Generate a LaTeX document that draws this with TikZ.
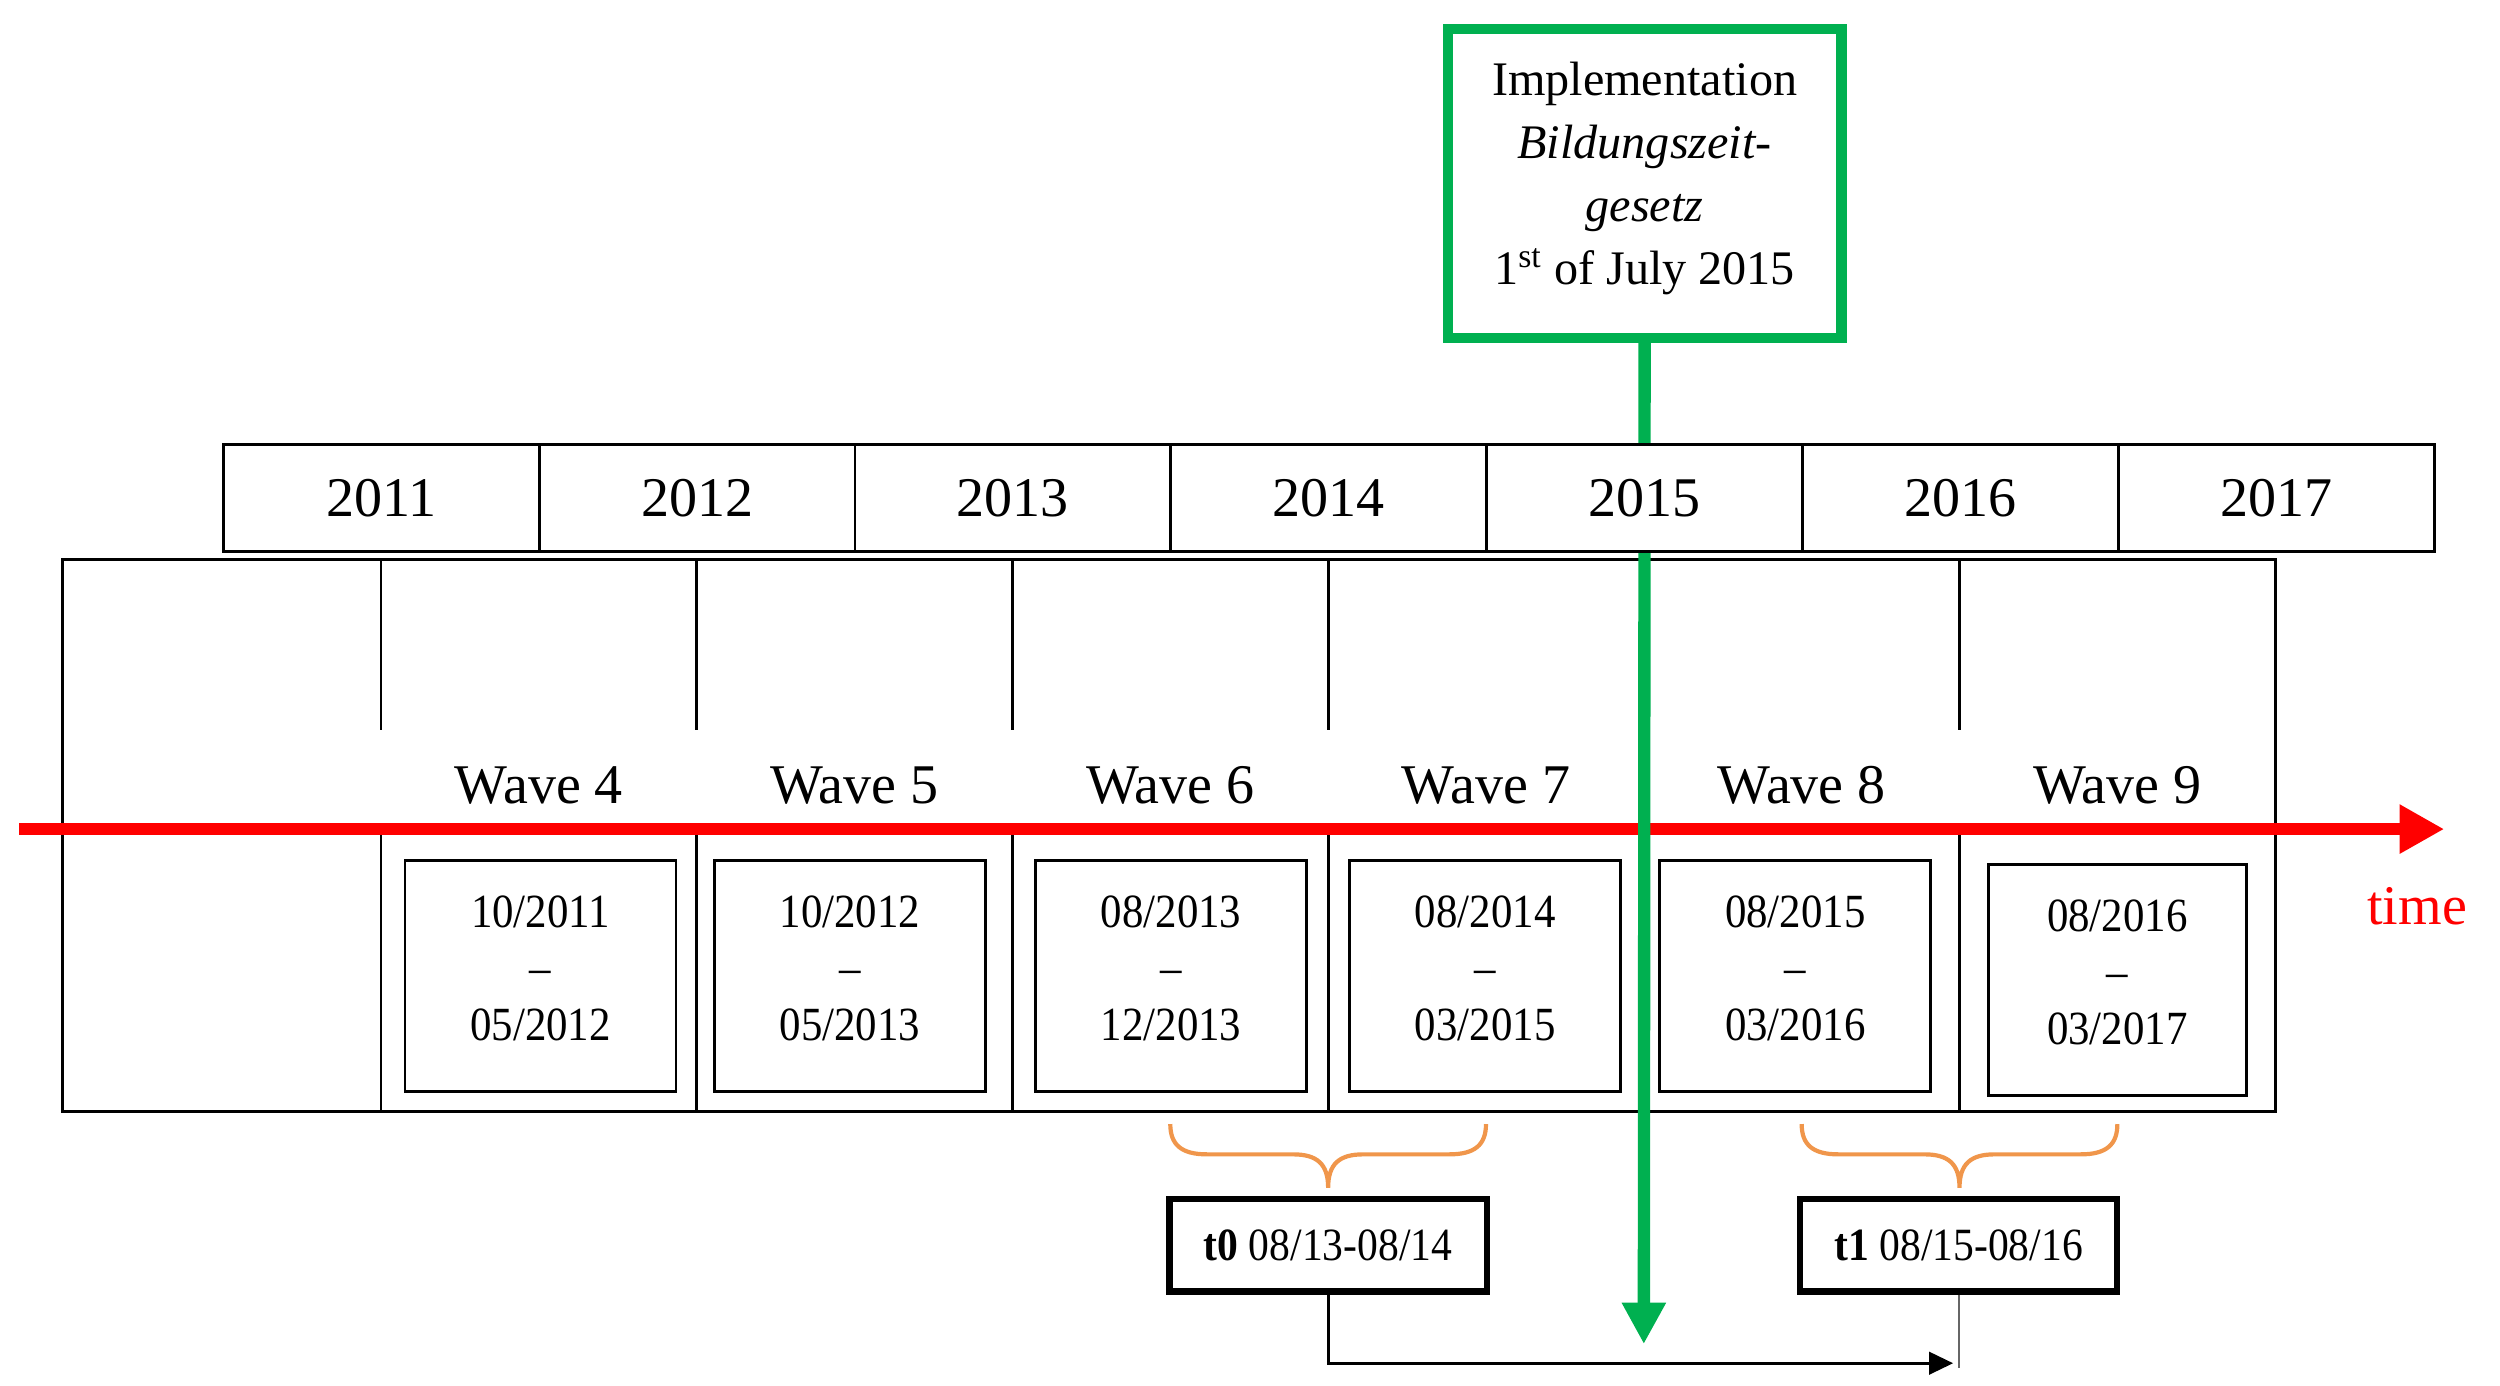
\documentclass[tikz,border=0pt]{standalone}
\usepackage{fontspec}
\setmainfont{Liberation Serif}
\newfontfamily\condfont[FakeStretch=0.9]{Liberation Serif}
\usetikzlibrary{arrows.meta}
\definecolor{impgreen}{RGB}{0,176,80}
\definecolor{bracecol}{RGB}{240,150,75}
\definecolor{timered}{RGB}{255,0,0}
\begin{document}
\begin{tikzpicture}[x=0.02cm,y=-0.02cm,
  gridline/.style={line width=1pt, black},
  yearbox/.style={draw, line width=1pt, fill=white, minimum width=3.962cm, minimum height=1.34cm, inner sep=0pt, outer sep=0pt, font=\fontsize{20}{24}\selectfont},
  wavelabel/.style={anchor=base, inner sep=0pt, font=\fontsize{20}{24}\selectfont},
  datebox/.style={draw, line width=1pt, minimum width=3.4cm, minimum height=2.9cm, inner sep=0pt, align=center, text depth=0.2cm, font=\condfont\fontsize{17}{20.2}\selectfont},
  tbox/.style={draw, line width=2.2pt, minimum width=3.98cm, minimum height=1.16cm, inner sep=0pt, font=\condfont\fontsize{16.5}{20}\selectfont},
  impbox/.style={draw=impgreen, line width=3.6pt, fill=white, minimum width=4.94cm, minimum height=3.88cm, inner sep=0pt, align=center, text depth=7pt, font=\fontsize{17.2}{22.5}\selectfont},
  greenarrow/.style={draw=impgreen, line width=4.4pt, -{Triangle[length=0.52cm,width=0.52cm]}},
  redarrow/.style={draw=timered, line width=4.2pt, -{Triangle[length=0.56cm,width=0.58cm]}},
  bracestyle/.style={draw=bracecol, line width=1.5pt},
  connarrow/.style={draw=black, line width=1pt, -{Triangle[length=0.3cm,width=0.28cm]}},
  thingray/.style={draw=black!60, line width=0.8pt},
  curly/.pic={
    \draw[bracestyle] (-99,0) .. controls (-99,13) and (-92,19) .. (-76,19) -- (-22,19)
      .. controls (-7,19) and (0,25) .. (0,40)
      .. controls (0,25) and (7,19) .. (22,19) -- (76,19)
      .. controls (92,19) and (99,13) .. (99,0);
  }
]
\useasboundingbox (0,0) rectangle (1568,869);

% main grid
\draw[gridline] (39,351) rectangle (1427,697);
\foreach \xx in {239,437,635,833,1031,1229}{
  \draw[gridline] (\xx,351) -- (\xx,458);
  \draw[gridline] (\xx,520) -- (\xx,697);
}

% wave labels
\node[wavelabel] (w4) at (338,504) {Wave 4};
\node[wavelabel] (w5) at (536,504) {Wave 5};
\node[wavelabel] (w6) at (734,504) {Wave 6};
\node[wavelabel] (w7) at (932,504) {Wave 7};
\node[wavelabel] (w8) at (1130,504) {Wave 8};
\node[wavelabel] (w9) at (1328,504) {Wave 9};

% date boxes
\node[datebox] (d4) at (339,612) {10/2011\\–\\05/2012};
\node[datebox] (d5) at (533,612) {10/2012\\–\\05/2013};
\node[datebox] (d6) at (734.5,612) {08/2013\\–\\12/2013};
\node[datebox] (d7) at (931.5,612) {08/2014\\–\\03/2015};
\node[datebox] (d8) at (1126,612) {08/2015\\–\\03/2016};
\node[datebox, minimum width=3.24cm] (d9) at (1328,614.5) {08/2016\\–\\03/2017};

% time axis
\coordinate (rs) at (12,520);
\coordinate (re) at (1533,520);
\draw[redarrow] (rs) -- (re);
\node[anchor=base, inner sep=0pt, text=timered, font=\fontsize{20}{24}\selectfont] (time) at (1516,580) {time};

% implementation box and green arrow
\node[impbox] (impl) at (1031.5,115) {Implementation\\\textit{Bildungszeit-}\\\textit{gesetz}\\1\textsuperscript{st} of July 2015};
\coordinate (gtip) at (1031,843);
\draw[greenarrow] (impl.south) -- (gtip);

% year boxes
\node[yearbox] (y2011) at (239.1,312.5) {2011};
\node[yearbox] (y2012) at (437.2,312.5) {2012};
\node[yearbox] (y2013) at (635.3,312.5) {2013};
\node[yearbox] (y2014) at (833.4,312.5) {2014};
\node[yearbox] (y2015) at (1031.5,312.5) {2015};
\node[yearbox] (y2016) at (1229.6,312.5) {2016};
\node[yearbox] (y2017) at (1427.7,312.5) {2017};

% braces
\pic (b0) at (833,705) {curly};
\pic (b1) at (1229,705) {curly};

% t boxes
\node[tbox] (t0) at (833,781) {\textbf{t0} 08/13-08/14};
\node[tbox] (t1) at (1228.5,781) {\textbf{t1} 08/15-08/16};

\coordinate (atip) at (1225,855);
\coordinate (t1end) at (1228.5,858);
\draw[connarrow] (t0.south) |- (atip);
\draw[thingray] (t1.south) -- (t1end);
\end{tikzpicture}
\end{document}
